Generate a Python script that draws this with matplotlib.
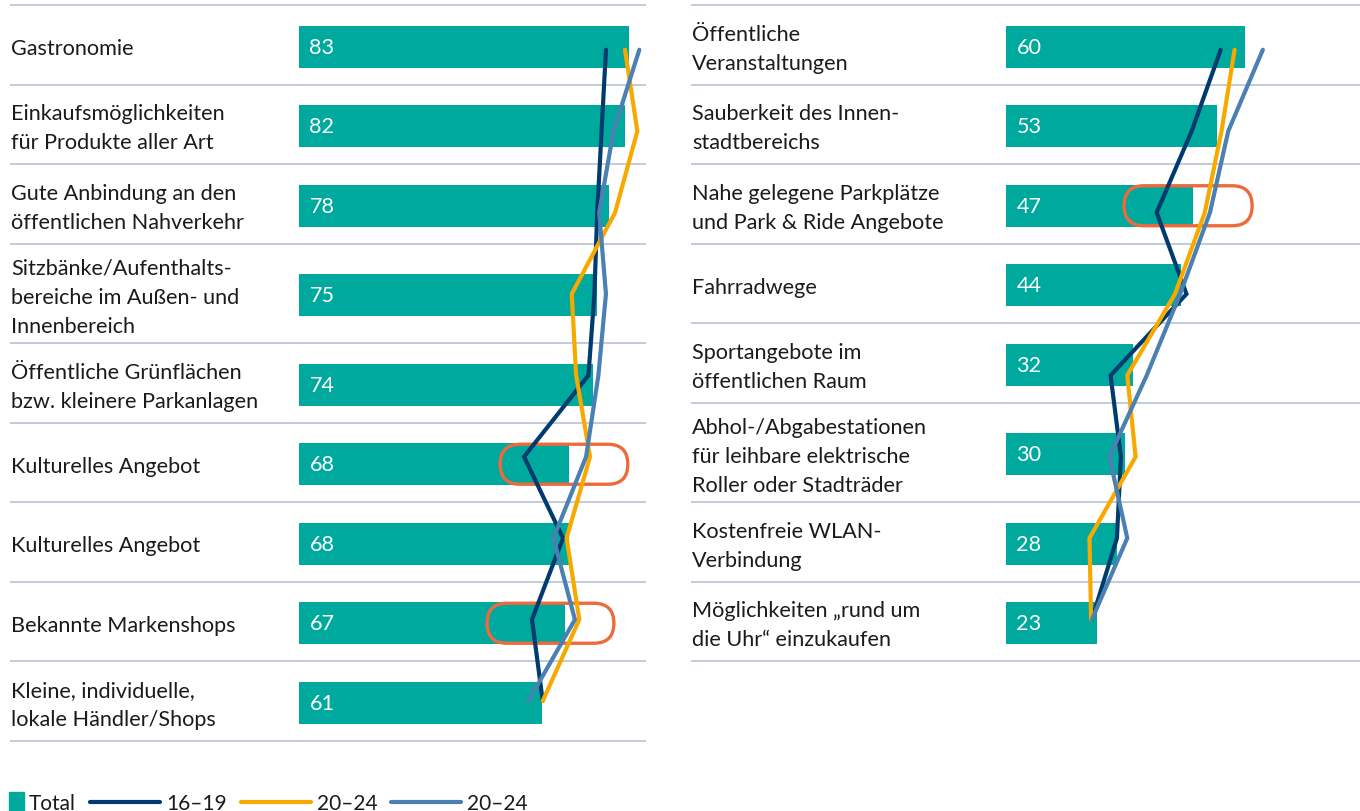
import matplotlib
matplotlib.use("Agg")
import matplotlib.pyplot as plt
from matplotlib.patches import FancyBboxPatch, Rectangle
from matplotlib.transforms import blended_transform_factory
import numpy as np

plt.rcParams["font.family"] = ["Lato", "DejaVu Sans"]

# ---------------- data ----------------
left_labels = [
    "Gastronomie",
    "Einkaufsmöglichkeiten\nfür Produkte aller Art",
    "Gute Anbindung an den\nöffentlichen Nahverkehr",
    "Sitzbänke/Aufenthalts-\nbereiche im Außen- und\nInnenbereich",
    "Öffentliche Grünflächen\nbzw. kleinere Parkanlagen",
    "Kulturelles Angebot",
    "Kulturelles Angebot",
    "Bekannte Markenshops",
    "Kleine, individuelle,\nlokale Händler/Shops",
]
left_total = [83, 82, 78, 75, 74, 68, 68, 67, 61]
left_16_19 = [77.2, 76.1, 75.0, 74.3, 72.8, 56.6, 66.4, 58.6, 61.3]
left_20_24_a = [82.0, 85.1, 79.5, 68.6, 69.7, 73.2, 67.3, 70.5, 61.3]
left_20_24_b = [85.6, 79.1, 75.5, 77.2, 75.3, 72.2, 64.0, 69.4, 57.7]

right_labels = [
    "Öffentliche\nVeranstaltungen",
    "Sauberkeit des Innen-\nstadtbereichs",
    "Nahe gelegene Parkplätze\nund Park & Ride Angebote",
    "Fahrradwege",
    "Sportangebote im\nöffentlichen Raum",
    "Abhol-/Abgabestationen\nfür leihbare elektrische\nRoller oder Stadträder",
    "Kostenfreie WLAN-\nVerbindung",
    "Möglichkeiten „rund um\ndie Uhr“ einzukaufen",
]
right_total = [60, 53, 47, 44, 32, 30, 28, 23]
right_16_19 = [54.0, 46.7, 37.9, 45.4, 26.3, 28.9, 27.9, 21.6]
right_20_24_a = [57.5, 54.2, 50.0, 42.5, 30.5, 32.6, 21.0, 21.4]
right_20_24_b = [64.6, 55.9, 51.3, 43.8, 35.4, 26.0, 30.5, 21.6]

legend_labels = ["Total", "16–19", "20–24", "20–24"]

# ---------------- style ----------------
TEAL = "#00A99D"
NAVY = "#003B70"
YELLOW = "#F8A900"
STEEL = "#4A80B2"
ORANGE = "#EE6A3C"
GRID = "#B9C1D7"
TEXT = "#1B1B1B"
FS = 15.6

W, H = 1360, 812
PX_PER_UNIT = 3.976
ROW = 79.5
TALL_ROW = 99.5
LINE_STEP = 81.4

fig = plt.figure(figsize=(W / 100, H / 100), dpi=100)


def panel(x_left, x_zero, x_right, labels, total, series, highlights):
    ax = fig.add_axes([x_left / W, 0, (x_right - x_left) / W, 1])
    ax.set_xlim(-(x_zero - x_left) / PX_PER_UNIT, (x_right - x_zero) / PX_PER_UNIT)
    ax.set_ylim(H, 0)
    ax.axis("off")

    heights = [TALL_ROW if lab.count("\n") == 2 else ROW for lab in labels]
    edges = 6 + np.concatenate([[0], np.cumsum(heights)])
    centers = (edges[:-1] + edges[1:]) / 2
    bar_y = centers + 2

    for e in edges:
        ax.axhline(e, color=GRID, lw=1.2, zorder=1)

    ax.barh(bar_y, total, height=42, left=0, color=TEAL, zorder=2)

    tr = blended_transform_factory(ax.transAxes, ax.transData)
    for y, lab in zip(centers, labels):
        ax.text(0.0015, y + 3.5, lab, transform=tr, ha="left", va="center",
                fontsize=FS, color=TEXT, linespacing=1.57)
    for y, v in zip(bar_y, total):
        ax.annotate(f"{v}", (0, y), xytext=(7.5, 0), textcoords="offset points",
                    ha="left", va="center", fontsize=FS, color="white", zorder=5)

    for (idx, x0, width) in highlights:
        box = FancyBboxPatch((x0, bar_y[idx] - 20), width, 40,
                             boxstyle=f"round,pad=0,rounding_size={20 / PX_PER_UNIT}",
                             mutation_aspect=PX_PER_UNIT,
                             fill=False, edgecolor=ORANGE, lw=2.4, zorder=3)
        ax.add_patch(box)

    line_y = bar_y[0] + 3 + LINE_STEP * np.arange(len(total))
    for vals, col in series:
        ax.plot(vals, line_y, color=col, lw=3.0, solid_capstyle="round",
                solid_joinstyle="miter", zorder=4)
    return ax


panel(10, 299, 646, left_labels, left_total,
      [(left_16_19, NAVY), (left_20_24_a, YELLOW), (left_20_24_b, STEEL)],
      [(5, 50.6, 32.1), (7, 47.3, 31.9)])
panel(691, 1006, 1360, right_labels, right_total,
      [(right_16_19, NAVY), (right_20_24_a, YELLOW), (right_20_24_b, STEEL)],
      [(2, 29.7, 32.2)])

# ---------------- legend ----------------
lg = fig.add_axes([0, 0, 1, 1])
lg.set_xlim(0, W)
lg.set_ylim(H, 0)
lg.axis("off")
renderer = fig.canvas.get_renderer()
LFS = FS - 0.6

lg.add_patch(Rectangle((9, 793), 15, 19, color=TEAL))
t = lg.text(29, 810, legend_labels[0], fontsize=LFS, color=TEXT, va="baseline")
x = t.get_window_extent(renderer).x1 + 14
for col, lab in zip([NAVY, YELLOW, STEEL], legend_labels[1:]):
    lg.plot([x, x + 70], [803, 803], color=col, lw=3.0, solid_capstyle="round")
    t = lg.text(x + 76, 810, lab, fontsize=LFS, color=TEXT, va="baseline")
    x = t.get_window_extent(renderer).x1 + 14

fig.savefig("out.png", dpi=100)
